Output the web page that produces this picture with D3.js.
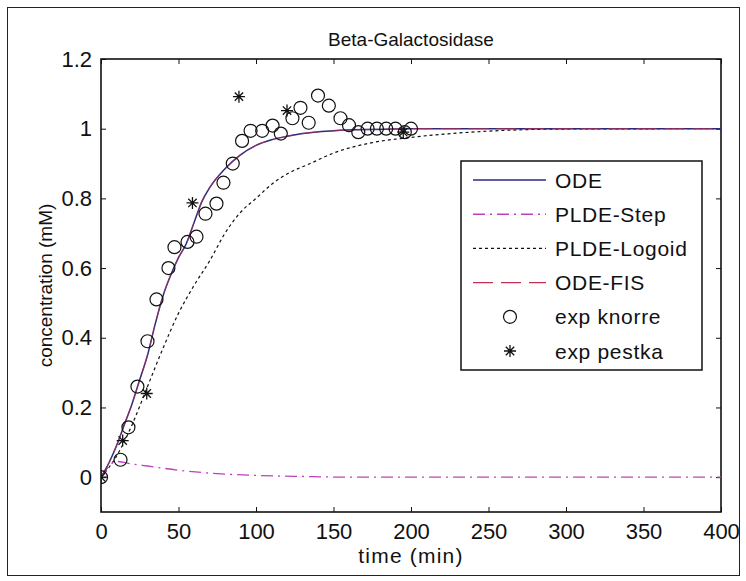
<!DOCTYPE html>
<html>
<head>
<meta charset="utf-8">
<script src="https://cdn.jsdelivr.net/npm/d3@7"></script>
<style>
  body { margin: 0; background: #fff; }
  text { font-family: "Liberation Sans", Arial, sans-serif; }
</style>
</head>
<body>
<div id="chart"></div>
<script>
// Data
const odeT   = [0, 5, 10, 15, 20, 25, 30, 35, 40, 45, 50, 55, 60, 65, 70, 80, 90, 100, 110, 120, 130, 150, 175, 200, 250, 400];
const odeC   = [0, 0.04, 0.09, 0.15, 0.21, 0.28, 0.35, 0.44, 0.52, 0.58, 0.63, 0.67, 0.73, 0.79, 0.83, 0.885, 0.925, 0.952, 0.968, 0.978, 0.986, 0.994, 0.998, 1.0, 1.0, 1.0];
const fisC   = [0, 0.04, 0.09, 0.15, 0.21, 0.28, 0.35, 0.44, 0.52, 0.58, 0.63, 0.67, 0.73, 0.79, 0.83, 0.885, 0.925, 0.952, 0.968, 0.978, 0.986, 0.994, 0.998, 1.0, 1.0, 1.0];
const stepT  = [0, 10, 20, 30, 50, 75, 100, 130, 160, 200, 400];
const stepC  = [0, 0.045, 0.038, 0.032, 0.02, 0.01, 0.005, 0.002, 0.0, 0.0, 0.0];
const logT   = [0, 10, 20, 30, 40, 50, 60, 70, 80, 90, 100, 110, 120, 135, 150, 175, 200, 250, 300, 400];
const logC   = [0, 0.06, 0.15, 0.26, 0.37, 0.47, 0.55, 0.62, 0.70, 0.76, 0.80, 0.84, 0.87, 0.90, 0.93, 0.96, 0.975, 0.993, 0.999, 1.0];
const knorreT = [0, 12.6, 17.7, 23.5, 30, 35.8, 43.5, 47.4, 55.8, 61.6, 67.4, 74.5, 79, 85, 91, 96.5, 104, 110.7, 116, 123.5, 128.7, 134, 140, 147, 154.5, 160, 166, 172, 178, 184, 190, 196, 200];
const knorreC = [0, 0.05, 0.143, 0.26, 0.39, 0.51, 0.60, 0.66, 0.675, 0.69, 0.756, 0.785, 0.845, 0.9, 0.965, 0.994, 0.994, 1.009, 0.986, 1.03, 1.06, 1.017, 1.095, 1.066, 1.03, 1.01, 0.99, 1.0, 1.0, 1.0, 1.0, 0.99, 1.0];
const pestkaT = [0, 14, 29.5, 59, 89, 120, 195];
const pestkaC = [0, 0.105, 0.24, 0.787, 1.092, 1.052, 0.99];
const xTicks = [0, 50, 100, 150, 200, 250, 300, 350, 400];
const yTicks = [0, 0.2, 0.4, 0.6, 0.8, 1, 1.2];

const W = 746, H = 581;
const margin = { top: 59, right: 25, bottom: 69, left: 101 };
const width = W - margin.left - margin.right,
      height = H - margin.top - margin.bottom;

const root = d3.select("#chart").append("svg")
    .attr("width", W).attr("height", H);

// figure border
root.append("rect").attr("x", 7.5).attr("y", 7.5)
    .attr("width", 732).attr("height", 568)
    .attr("fill", "#fff").attr("stroke", "#222").attr("stroke-width", 1);

const svg = root.append("g").attr("transform", `translate(${margin.left},${margin.top})`);

const x = d3.scaleLinear().domain([0, 400]).range([0, width]);
const y = d3.scaleLinear().domain([-0.1, 1.2]).range([height, 0]);

// axes, MATLAB style with inner ticks on all four sides
const fmt = d => d3.format("~g")(d);
svg.append("g").attr("transform", `translate(0,${height})`)
    .call(d3.axisBottom(x).tickValues(xTicks).tickSize(-5).tickPadding(11).tickFormat(fmt))
    .call(g => g.select(".domain").remove());
svg.append("g")
    .call(d3.axisTop(x).tickValues(xTicks).tickSize(-5).tickFormat(""))
    .call(g => g.select(".domain").remove());
svg.append("g")
    .call(d3.axisLeft(y).tickValues(yTicks).tickSize(-5).tickPadding(9).tickFormat(fmt))
    .call(g => g.select(".domain").remove());
svg.append("g").attr("transform", `translate(${width},0)`)
    .call(d3.axisRight(y).tickValues(yTicks).tickSize(-5).tickFormat(""))
    .call(g => g.select(".domain").remove());
svg.selectAll(".tick text").attr("font-size", 22).attr("fill", "#111")
    .attr("font-family", "'Liberation Sans', Arial, sans-serif");
svg.selectAll(".tick line").attr("stroke", "#111");

svg.append("rect").attr("width", width).attr("height", height)
    .attr("fill", "none").attr("stroke", "#111").attr("stroke-width", 1.6);

svg.append("defs").append("clipPath").attr("id", "clip")
    .append("rect").attr("width", width).attr("height", height);
const plot = svg.append("g").attr("clip-path", "url(#clip)");

const line = d3.line().x(d => x(d[0])).y(d => y(d[1])).curve(d3.curveMonotoneX);
const zip = (a, b) => a.map((v, i) => [v, b[i]]);

plot.append("path").datum(zip(logT, logC)).attr("d", line)
    .attr("fill", "none").attr("stroke", "#111").attr("stroke-width", 1.2)
    .attr("stroke-dasharray", "3,3");
plot.append("path").datum(zip(stepT, stepC)).attr("d", line)
    .attr("fill", "none").attr("stroke", "#c040c0").attr("stroke-width", 1.3)
    .attr("stroke-dasharray", "12,5,2,5");
plot.append("path").datum(zip(odeT, odeC)).attr("d", line)
    .attr("fill", "none").attr("stroke", "#2a2a80").attr("stroke-width", 1.5);
plot.append("path").datum(zip(odeT, fisC)).attr("d", line)
    .attr("fill", "none").attr("stroke", "#c03050").attr("stroke-width", 1.2)
    .attr("stroke-dasharray", "20,8").attr("opacity", 0.6);

// markers
const star = (s) => `M${-s},0H${s}M0,${-s}V${s}M${-s*0.7},${-s*0.7}L${s*0.7},${s*0.7}M${-s*0.7},${s*0.7}L${s*0.7},${-s*0.7}`;

plot.selectAll(".knorre").data(zip(knorreT, knorreC)).enter().append("circle")
    .attr("cx", d => x(d[0])).attr("cy", d => y(d[1])).attr("r", 6.5)
    .attr("fill", "none").attr("stroke", "#111").attr("stroke-width", 1.2);
plot.selectAll(".pestka").data(zip(pestkaT, pestkaC)).enter().append("path")
    .attr("transform", d => `translate(${x(d[0])},${y(d[1])})`)
    .attr("d", star(6)).attr("stroke", "#111").attr("stroke-width", 1.3).attr("fill", "none");

// title and labels
root.append("text").attr("x", margin.left + width / 2).attr("y", 46)
    .attr("text-anchor", "middle").attr("font-size", 19).attr("fill", "#111").text("Beta-Galactosidase");
root.append("text").attr("x", margin.left + width / 2).attr("y", 563)
    .attr("text-anchor", "middle").attr("font-size", 21).attr("letter-spacing", 1.2)
    .attr("fill", "#111").text("time (min)");
root.append("text").attr("transform", `translate(52,${margin.top + y(0.55)}) rotate(-90)`)
    .attr("text-anchor", "middle").attr("font-size", 19).attr("fill", "#111").text("concentration (mM)");

// legend
const legend = root.append("g").attr("transform", "translate(461,161)");
legend.append("rect").attr("width", 241).attr("height", 209)
    .attr("fill", "#fff").attr("stroke", "#111").attr("stroke-width", 1.5);
const items = [
  { name: "ODE", type: "line", color: "#2a2a80", dash: null },
  { name: "PLDE-Step", type: "line", color: "#c040c0", dash: "12,5,2,5" },
  { name: "PLDE-Logoid", type: "line", color: "#111", dash: "3,3" },
  { name: "ODE-FIS", type: "line", color: "#c03050", dash: "20,8" },
  { name: "exp knorre", type: "circle" },
  { name: "exp pestka", type: "star" }
];
items.forEach((it, i) => {
  const cy = 19 + i * 34.2;
  const g = legend.append("g").attr("transform", `translate(0,${cy})`);
  if (it.type === "line") {
    g.append("line").attr("x1", 12).attr("x2", 85).attr("y1", 0).attr("y2", 0)
      .attr("stroke", it.color).attr("stroke-width", 1.4)
      .attr("stroke-dasharray", it.dash);
  } else if (it.type === "circle") {
    g.append("circle").attr("cx", 49).attr("cy", 0).attr("r", 6.5)
      .attr("fill", "none").attr("stroke", "#111").attr("stroke-width", 1.2);
  } else {
    g.append("path").attr("transform", "translate(49,0)").attr("d", star(6))
      .attr("stroke", "#111").attr("stroke-width", 1.3).attr("fill", "none");
  }
  g.append("text").attr("x", 94).attr("y", 7.5).attr("font-size", 21)
    .attr("letter-spacing", 0.7).attr("fill", "#111").text(it.name);
});
</script>
</body>
</html>
